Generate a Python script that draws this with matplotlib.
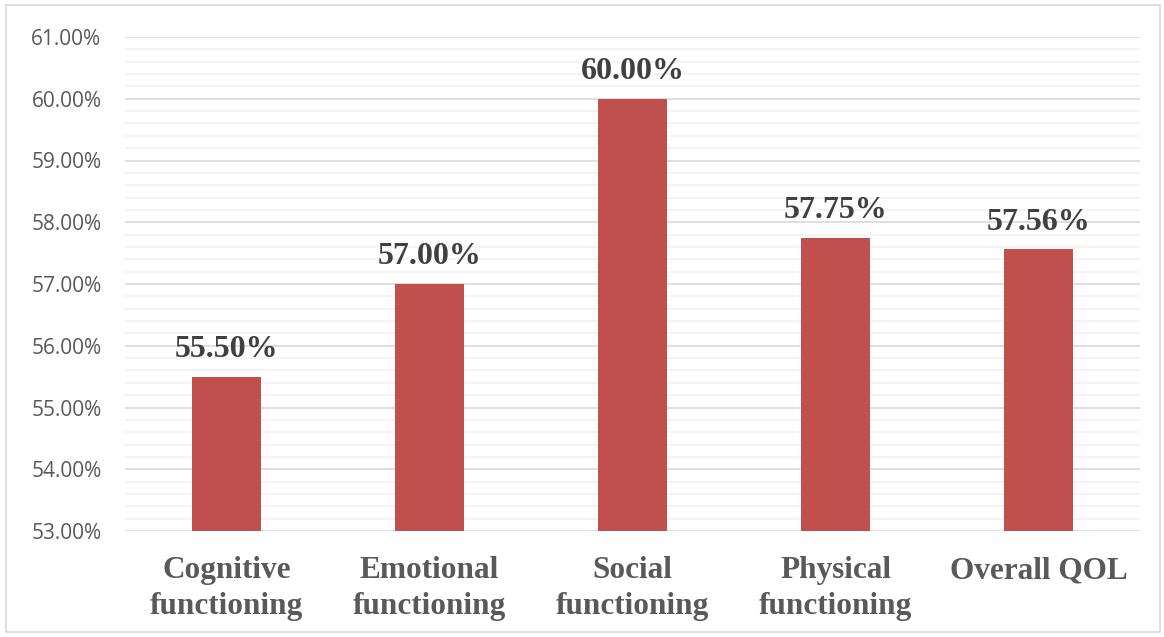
import matplotlib
matplotlib.use("Agg")
import matplotlib.pyplot as plt
from matplotlib.ticker import MultipleLocator, FuncFormatter
from matplotlib.patches import Rectangle

categories = ["Cognitive\nfunctioning", "Emotional\nfunctioning", "Social\nfunctioning",
              "Physical\nfunctioning", "Overall QOL"]
values = [55.50, 57.00, 60.00, 57.75, 57.56]
value_labels = ["55.50%", "57.00%", "60.00%", "57.75%", "57.56%"]

W, H = 1164, 637
fig = plt.figure(figsize=(W / 100, H / 100), dpi=100)
fig.patch.set_facecolor("white")
fig.patches.append(Rectangle((6 / W, 5 / H), 1154 / W, 627 / H, transform=fig.transFigure,
                             fill=False, edgecolor="#D9D9D9", linewidth=1.2))

ax = fig.add_axes([125 / W, 1 - 531 / H, 1015 / W, (531 - 37) / H])
x = list(range(len(categories)))
ax.bar(x, values, width=0.335, color="#C0504D", bottom=0, zorder=3)
ax.set_xlim(-0.5, len(categories) - 0.5)
ax.set_ylim(53, 61)
ax.yaxis.set_major_locator(MultipleLocator(1))
ax.yaxis.set_minor_locator(MultipleLocator(0.2))
ax.yaxis.set_major_formatter(FuncFormatter(lambda v, p: f"{v:.2f}%"))
ax.grid(axis="y", which="major", color="#D9D9D9", linewidth=1.2, zorder=0)
ax.grid(axis="y", which="minor", color="#F2F2F2", linewidth=1.2, zorder=0)
for s in ax.spines.values():
    s.set_visible(False)
ax.tick_params(axis="both", which="both", length=0)
ax.tick_params(axis="y", labelsize=15, labelcolor="#595959", pad=17)
for lbl in ax.get_yticklabels():
    lbl.set_fontfamily("Open Sans")
ax.set_xticks(x)
ax.set_xticklabels(categories, fontsize=22.5, fontweight="bold", color="#595959",
                   fontfamily="Liberation Serif", linespacing=1.3)
ax.tick_params(axis="x", pad=18)

for xi, v, t in zip(x, values, value_labels):
    ax.annotate(t, (xi, v), xytext=(0, 9), textcoords="offset points", ha="center",
                va="bottom", fontsize=23, fontweight="bold", color="#404040",
                fontfamily="Liberation Serif")

fig.savefig("out.png", dpi=100, facecolor="white")
